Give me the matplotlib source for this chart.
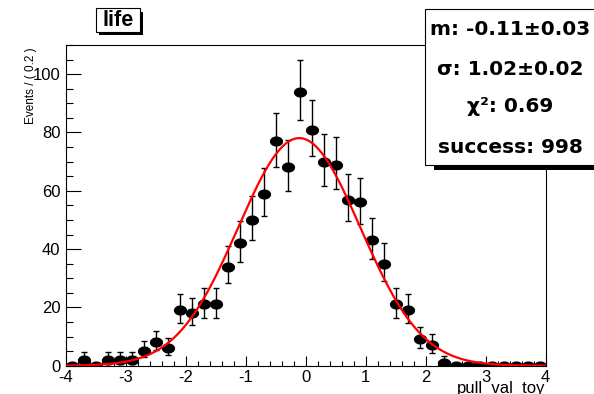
import math
import numpy as np
import matplotlib
matplotlib.use("Agg")
import matplotlib.pyplot as plt
from matplotlib.path import Path
from matplotlib.patches import Rectangle
from matplotlib.ticker import MultipleLocator

# ---------------- data ----------------
bin_centers = [-3.9, -3.7, -3.5, -3.3, -3.1, -2.9, -2.7, -2.5, -2.3, -2.1,
               -1.9, -1.7, -1.5, -1.3, -1.1, -0.9, -0.7, -0.5, -0.3, -0.1,
               0.1, 0.3, 0.5, 0.7, 0.9, 1.1, 1.3, 1.5, 1.7, 1.9,
               2.1, 2.3, 2.5, 2.7, 2.9, 3.1, 3.3, 3.5, 3.7, 3.9]
counts = [0, 2, 0, 2, 2, 2, 5, 8, 6, 19,
          18, 21, 21, 34, 42, 50, 59, 77, 68, 94,
          81, 70, 69, 57, 56, 43, 35, 21, 19, 9,
          7, 1, 0, 0, 0, 0, 0, 0, 0, 0]
bin_width = 0.2
fit_mean = -0.11
fit_mean_err = 0.03
fit_sigma = 1.02
fit_sigma_err = 0.02
chi2 = 0.69
n_success = 998
title = "life"
x_label = "pull_val_toy"
y_label = "Events / ( 0.2 )"
x_ticks = [-4, -3, -2, -1, 0, 1, 2, 3, 4]
y_ticks = [0, 20, 40, 60, 80, 100]

# ---------------- helpers ----------------
W, H = 594, 394


def fx(px):
    return px / W


def fy(py):
    return 1 - py / H


def pois_cdf(k, mu):
    s, term = 0.0, math.exp(-mu)
    for i in range(k + 1):
        if i > 0:
            term *= mu / i
        s += term
    return s


def garwood(n, cl=0.682689):
    a = (1 - cl) / 2
    if n == 0:
        lo = 0.0
    else:
        l, h = 0.0, n + 10 * math.sqrt(n) + 10
        for _ in range(100):
            m = 0.5 * (l + h)
            if 1 - pois_cdf(n - 1, m) < a:
                l = m
            else:
                h = m
        lo = 0.5 * (l + h)
    l, h = n, n + 10 * math.sqrt(n + 1) + 10
    for _ in range(100):
        m = 0.5 * (l + h)
        if pois_cdf(n, m) > a:
            l = m
        else:
            h = m
    hi = 0.5 * (l + h)
    return n - lo, hi - n


plt.rcParams['font.family'] = ['Liberation Sans', 'DejaVu Sans']
plt.rcParams['axes.unicode_minus'] = False

fig = plt.figure(figsize=(W / 100, H / 100), dpi=100)
fig.patch.set_facecolor('white')
ax = fig.add_axes([fx(66), fy(365.7), (545.7 - 66) / W, (365.7 - 45) / H])

x = np.array(bin_centers)
y = np.array(counts, dtype=float)
errs = np.array([garwood(int(c)) for c in counts])
nz = y > 0
ax.errorbar(x[nz], y[nz], yerr=[errs[nz, 0], errs[nz, 1]], fmt='none',
            ecolor='black', elinewidth=1.0, capsize=2.5, capthick=1.0, zorder=2)

th = np.linspace(0, 2 * np.pi, 40)
ell = Path(np.column_stack([1.35 * np.cos(th), np.sin(th)]), closed=True)
ax.plot(x, y, linestyle='none', marker=ell, markersize=8.5, color='black', zorder=3)

# Gaussian fit curve from fit parameters
xc = np.linspace(-4, 4, 500)
norm = n_success * bin_width / (math.sqrt(2 * math.pi) * fit_sigma)
yc = norm * np.exp(-0.5 * ((xc - fit_mean) / fit_sigma) ** 2)
ax.plot(xc, yc, color='#ff0000', linewidth=1.6, zorder=4)

ax.set_xlim(-4, 4)
ax.set_ylim(0, 110)
ax.set_xticks(x_ticks)
ax.set_yticks(y_ticks)
ax.xaxis.set_minor_locator(MultipleLocator(0.2))
ax.yaxis.set_minor_locator(MultipleLocator(5))
ax.tick_params(axis='both', which='both', direction='in', top=False, right=False,
               width=0.8, labelsize=12)
ax.tick_params(axis='x', which='major', length=7, pad=3)
ax.tick_params(axis='x', which='minor', length=3.5)
ax.tick_params(axis='y', which='major', length=10.5, pad=4)
ax.tick_params(axis='y', which='minor', length=5.2)
for s in ax.spines.values():
    s.set_linewidth(0.8)

# axis labels
fig.text(fx(545), fy(392.5), x_label, ha='right', va='baseline', fontsize=12)
fig.text(fx(31), fy(86), y_label, ha='center', va='center', rotation=90, fontsize=8.5)

# title box
fig.patches.append(Rectangle((fx(99), fy(35)), (140 - 96) / W, (31.7 - 8.3) / H,
                             transform=fig.transFigure, facecolor='black',
                             edgecolor='none', zorder=5))
fig.patches.append(Rectangle((fx(96), fy(31.7)), (140 - 96) / W, (31.7 - 8.3) / H,
                             transform=fig.transFigure, facecolor='white',
                             edgecolor='black', linewidth=0.8, zorder=6))
fig.text(fx(118), fy(20.5), title, ha='center', va='center', fontsize=15.5,
         fontweight='bold', zorder=7)

# stats box
fig.patches.append(Rectangle((fx(434), fy(170)), 200 / W, (170 - 14) / H,
                             transform=fig.transFigure, facecolor='black',
                             edgecolor='none', zorder=5))
fig.patches.append(Rectangle((fx(425), fy(165)), 200 / W, (165 - 9.3) / H,
                             transform=fig.transFigure, facecolor='white',
                             edgecolor='black', linewidth=0.8, zorder=6))
stats = [f"m: {fit_mean:.2f}\u00b1{fit_mean_err:.2f}",
         f"\u03c3: {fit_sigma:.2f}\u00b1{fit_sigma_err:.2f}",
         f"\u03c7\u00b2: {chi2:.2f}",
         f"success: {n_success}"]
for txt, base in zip(stats, [35, 75, 112, 153]):
    fig.text(fx(510), fy(base), txt, ha='center', va='baseline', fontsize=14.5,
             fontweight='bold', family=['DejaVu Sans'], zorder=7)

fig.savefig('out.png', dpi=100)
